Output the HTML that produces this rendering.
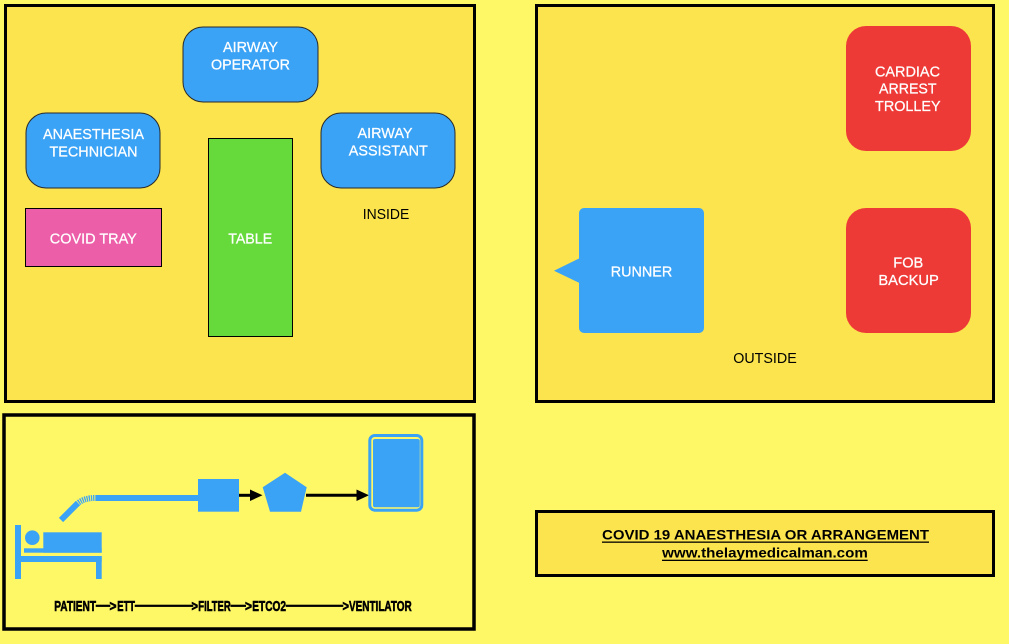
<!DOCTYPE html>
<html>
<head>
<meta charset="utf-8">
<style>
html,body{margin:0;padding:0;background:#FFF866;}
svg{display:block;}
text{font-family:"Liberation Sans",Arial,sans-serif;}
</style>
</head>
<body>
<svg width="1009" height="644" viewBox="0 0 1009 644" xmlns="http://www.w3.org/2000/svg">
  <rect x="0" y="0" width="1009" height="644" fill="#FFF866"/>

  <!-- INSIDE box -->
  <rect x="5.5" y="5.5" width="469" height="396" fill="#FBE44E" stroke="#000" stroke-width="3"/>
  <!-- OUTSIDE box -->
  <rect x="536.5" y="5.5" width="457" height="396" fill="#FBE44E" stroke="#000" stroke-width="3"/>
  <!-- bottom-left box -->
  <rect x="4" y="415" width="470" height="214" fill="#FFF866" stroke="#000" stroke-width="3.5"/>
  <!-- title box -->
  <rect x="536.5" y="511.5" width="457" height="64" fill="#FBE44E" stroke="#000" stroke-width="3"/>

  <g font-size="14.5" fill="#fff" text-anchor="middle" stroke="#fff" stroke-width="0.25">
  <!-- Inside nodes -->
  <rect x="183" y="27" width="135" height="75" rx="20" ry="20" fill="#3BA3F6" stroke="#2a2a2a" stroke-width="1"/>
  <text x="250.5" y="52" textLength="55" lengthAdjust="spacingAndGlyphs">AIRWAY</text>
  <text x="250.5" y="69.5" textLength="79" lengthAdjust="spacingAndGlyphs">OPERATOR</text>

  <rect x="26" y="113" width="134" height="75" rx="20" ry="20" fill="#3BA3F6" stroke="#2a2a2a" stroke-width="1"/>
  <text x="93.5" y="139" textLength="101" lengthAdjust="spacingAndGlyphs">ANAESTHESIA</text>
  <text x="93.5" y="156.5" textLength="88" lengthAdjust="spacingAndGlyphs">TECHNICIAN</text>

  <rect x="321" y="113" width="134" height="75" rx="20" ry="20" fill="#3BA3F6" stroke="#2a2a2a" stroke-width="1"/>
  <text x="385" y="138" textLength="55" lengthAdjust="spacingAndGlyphs">AIRWAY</text>
  <text x="388.3" y="155.5" textLength="79" lengthAdjust="spacingAndGlyphs">ASSISTANT</text>

  <rect x="25.5" y="208.5" width="136" height="58" fill="#EC5FA8" stroke="#000" stroke-width="1"/>
  <text x="93.3" y="243.5" textLength="87" lengthAdjust="spacingAndGlyphs">COVID TRAY</text>

  <rect x="208.5" y="138.5" width="84" height="198" fill="#66D93B" stroke="#000" stroke-width="1"/>
  <text x="250.2" y="243.5" textLength="44" lengthAdjust="spacingAndGlyphs">TABLE</text>

  <!-- Outside nodes -->
  <rect x="846" y="26" width="125" height="125" rx="20" ry="20" fill="#EE3A37" stroke="none"/>
  <text x="907.5" y="76.5" textLength="65" lengthAdjust="spacingAndGlyphs">CARDIAC</text>
  <text x="907.8" y="93.5" textLength="57.5" lengthAdjust="spacingAndGlyphs">ARREST</text>
  <text x="907.8" y="111" textLength="65.5" lengthAdjust="spacingAndGlyphs">TROLLEY</text>

  <rect x="846" y="208" width="125" height="125" rx="20" ry="20" fill="#EE3A37" stroke="none"/>
  <text x="908.3" y="267.5" textLength="30" lengthAdjust="spacingAndGlyphs">FOB</text>
  <text x="908.6" y="285" textLength="60.5" lengthAdjust="spacingAndGlyphs">BACKUP</text>

  <rect x="579" y="208" width="125" height="125" rx="5" ry="5" fill="#3BA3F6" stroke="none"/>
  <polygon points="554,270.7 580,258 580,283.3" fill="#3BA3F6" stroke="none"/>
  <text x="641.5" y="276.5" textLength="61.5" lengthAdjust="spacingAndGlyphs">RUNNER</text>
  </g>

  <text x="386" y="219" fill="#000" font-size="14.5" text-anchor="middle" textLength="46.5" lengthAdjust="spacingAndGlyphs">INSIDE</text>
  <text x="765" y="363" fill="#000" font-size="14.5" text-anchor="middle" textLength="63.5" lengthAdjust="spacingAndGlyphs">OUTSIDE</text>

  <!-- Bed icon -->
  <g fill="#3BA3F6">
    <rect x="15" y="525" width="6" height="54"/>
    <circle cx="32.3" cy="537.7" r="7.3"/>
    <rect x="43.3" y="532.3" width="58.4" height="20.4"/>
    <rect x="24" y="548.3" width="77.7" height="4.4"/>
    <rect x="21" y="556" width="80.7" height="6"/>
    <rect x="96" y="556" width="5.7" height="23"/>
  </g>
  <!-- tube -->
  <line x1="61" y1="520" x2="78" y2="503" stroke="#3BA3F6" stroke-width="6"/>
  <path d="M77,504 Q84,497.5 97,498" fill="none" stroke="#3BA3F6" stroke-width="6" stroke-dasharray="1.3 0.9"/>
  <rect x="96" y="495" width="103" height="6" fill="#3BA3F6"/>
  <!-- filter -->
  <rect x="198" y="479" width="41" height="32.7" fill="#3BA3F6"/>
  <!-- arrow 1 -->
  <line x1="239" y1="495.3" x2="252" y2="495.3" stroke="#000" stroke-width="3"/>
  <polygon points="250,489.5 262.5,495.3 250,501" fill="#000"/>
  <!-- pentagon -->
  <polygon points="285,472.7 306.7,487.3 301,511.7 270,511.7 262.7,487.3" fill="#3BA3F6"/>
  <!-- arrow 2 -->
  <line x1="306" y1="495.3" x2="358" y2="495.3" stroke="#000" stroke-width="3"/>
  <polygon points="356.5,489.5 369,495.3 356.5,501" fill="#000"/>
  <!-- ventilator -->
  <rect x="369.8" y="435.5" width="52" height="74.7" rx="5" ry="5" fill="none" stroke="#3BA3F6" stroke-width="3"/>
  <rect x="373" y="439" width="46.8" height="68.3" rx="2" ry="2" fill="#3BA3F6"/>

  <!-- flow text -->
  <g font-weight="bold" font-size="14.5" fill="#000" stroke="#000" stroke-width="0.6">
    <text x="54.3" y="611" textLength="41.7" lengthAdjust="spacingAndGlyphs">PATIENT</text>
    <rect x="96" y="605" width="14" height="1.6"/>
    <text x="109.5" y="611" textLength="7" lengthAdjust="spacingAndGlyphs">&gt;</text>
    <text x="117.3" y="611" textLength="17.7" lengthAdjust="spacingAndGlyphs">ETT</text>
    <rect x="135" y="605" width="58" height="1.6"/>
    <text x="191.5" y="611" textLength="6.5" lengthAdjust="spacingAndGlyphs">&gt;</text>
    <text x="198.3" y="611" textLength="32.4" lengthAdjust="spacingAndGlyphs">FILTER</text>
    <rect x="230.7" y="605" width="15" height="1.6"/>
    <text x="245" y="611" textLength="7" lengthAdjust="spacingAndGlyphs">&gt;</text>
    <text x="252.3" y="611" textLength="33.7" lengthAdjust="spacingAndGlyphs">ETCO2</text>
    <rect x="286" y="605" width="57" height="1.6"/>
    <text x="342.5" y="611" textLength="6.5" lengthAdjust="spacingAndGlyphs">&gt;</text>
    <text x="349" y="611" textLength="62.7" lengthAdjust="spacingAndGlyphs">VENTILATOR</text>
  </g>

  <!-- title -->
  <text x="765.5" y="539.5" font-size="14" font-weight="bold" fill="#000" text-anchor="middle" textLength="327" lengthAdjust="spacingAndGlyphs">COVID 19 ANAESTHESIA OR ARRANGEMENT</text>
  <rect x="602" y="541.5" width="327" height="1.3" fill="#000"/>
  <text x="765" y="557.5" font-size="14" font-weight="bold" fill="#000" text-anchor="middle" textLength="205.7" lengthAdjust="spacingAndGlyphs">www.thelaymedicalman.com</text>
  <rect x="662" y="559.7" width="205.7" height="1.3" fill="#000"/>
</svg>
</body>
</html>
